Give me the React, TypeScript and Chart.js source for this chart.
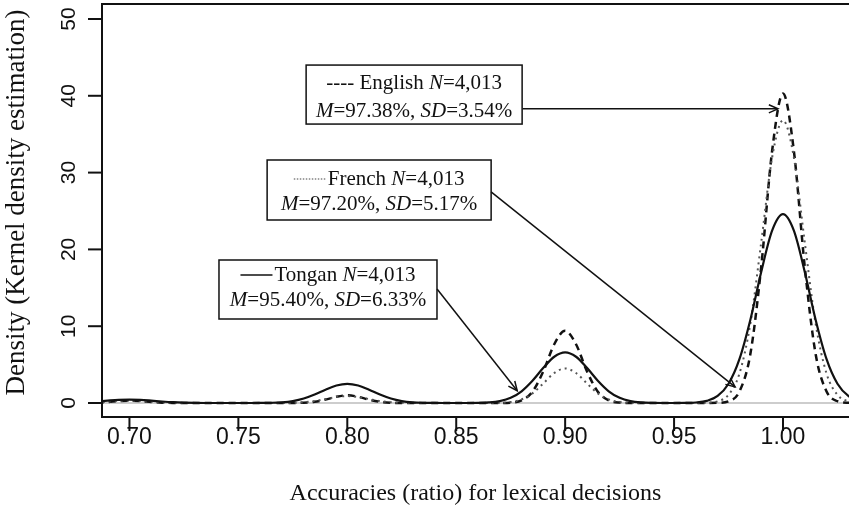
import { useEffect, useRef } from "react";
import { Chart, registerables } from "chart.js";
Chart.register(...registerables);

const xGrid = [
  0.685, 0.69, 0.695, 0.7, 0.705, 0.71, 0.715, 0.72, 0.725, 0.73,
  0.735, 0.74, 0.745, 0.75, 0.755, 0.76, 0.765, 0.77, 0.775, 0.78,
  0.785, 0.79, 0.795, 0.8, 0.805, 0.81, 0.815, 0.82, 0.825, 0.83,
  0.835, 0.84, 0.845, 0.85, 0.855, 0.86, 0.865, 0.87, 0.875, 0.88,
  0.885, 0.89, 0.895, 0.9, 0.905, 0.91, 0.915, 0.92, 0.925, 0.93,
  0.935, 0.94, 0.945, 0.95, 0.955, 0.96, 0.965, 0.97, 0.975, 0.98,
  0.985, 0.99, 0.995, 1.0, 1.005, 1.01, 1.015, 1.02, 1.025, 1.03,
  1.035,
];

const tongan = [
  0.198, 0.312, 0.411, 0.45, 0.411, 0.312, 0.198, 0.104, 0.046, 0.017,
  0.005, 0.001, 0, 0, 0.002, 0.007, 0.029, 0.093, 0.255, 0.58,
  1.099, 1.735, 2.282, 2.5, 2.282, 1.735, 1.099, 0.58, 0.255, 0.093,
  0.029, 0.007, 0.002, 0.001, 0.004, 0.019, 0.075, 0.247, 0.673, 1.531,
  2.901, 4.58, 6.024, 6.6, 6.024, 4.58, 2.901, 1.531, 0.673, 0.247,
  0.075, 0.019, 0.004, 0.003, 0.015, 0.071, 0.28, 0.919, 2.509, 5.707,
  10.814, 17.072, 22.452, 24.6, 22.452, 17.072, 10.814, 5.707, 2.509, 0.919,
  0.28,
];

const english = [
  0.047, 0.132, 0.244, 0.3, 0.244, 0.132, 0.047, 0.011, 0.002, 0,
  0, 0, 0, 0, 0, 0, 0, 0.001, 0.006, 0.037,
  0.157, 0.44, 0.814, 1.0, 0.814, 0.44, 0.157, 0.037, 0.006, 0.001,
  0, 0, 0, 0, 0, 0, 0, 0.006, 0.055, 0.351,
  1.479, 4.132, 7.653, 9.4, 7.653, 4.132, 1.479, 0.351, 0.055, 0.006,
  0, 0, 0, 0, 0, 0, 0.002, 0.025, 0.237, 1.504,
  6.339, 17.716, 32.81, 40.3, 32.81, 17.716, 6.339, 1.504, 0.237, 0.025,
  0.002,
];

const french = [
  0.084, 0.17, 0.26, 0.3, 0.26, 0.17, 0.084, 0.031, 0.009, 0.002,
  0, 0, 0, 0, 0, 0, 0.001, 0.006, 0.026, 0.094,
  0.252, 0.511, 0.781, 0.9, 0.781, 0.511, 0.252, 0.094, 0.026, 0.006,
  0.001, 0, 0, 0, 0, 0.001, 0.004, 0.028, 0.131, 0.468,
  1.26, 2.556, 3.906, 4.5, 3.906, 2.556, 1.26, 0.468, 0.131, 0.028,
  0.004, 0.001, 0, 0, 0, 0.004, 0.036, 0.226, 1.072, 3.827,
  10.304, 20.899, 31.946, 36.8, 31.946, 20.899, 10.304, 3.827, 1.072, 0.226,
  0.036,
];

const xTicks = [0.7, 0.75, 0.8, 0.85, 0.9, 0.95, 1.0];
const xTickLabels = ["0.70", "0.75", "0.80", "0.85", "0.90", "0.95", "1.00"];
const yTicks = [0, 10, 20, 30, 40, 50];
const yTickLabels = ["0", "10", "20", "30", "40", "50"];

const xTitle = "Accuracies (ratio) for lexical decisions";
const yTitle = "Density (Kernel density estimation)";

type Seg = { t?: string; it?: boolean; line?: "dash" | "dot" | "solid" };
type Note = {
  left: number; top: number; w: number; h: number;
  l1: Seg[]; l2: Seg[]; o1: number; o2: number;
  from: [number, number]; to: [number, number];
};

const notes: Note[] = [
  {
    left: 0.7811, top: 44.0, w: 216, h: 59,
    l1: [{ t: "---- English " }, { t: "N", it: true }, { t: "=4,013" }],
    l2: [{ t: "M", it: true }, { t: "=97.38%, " }, { t: "SD", it: true }, { t: "=3.54%" }],
    o1: 17, o2: 45,
    from: [0.8805, 38.3], to: [0.9977, 38.3],
  },
  {
    left: 0.7632, top: 31.64, w: 224, h: 60,
    l1: [{ line: "dot" }, { t: "French " }, { t: "N", it: true }, { t: "=4,013" }],
    l2: [{ t: "M", it: true }, { t: "=97.20%, " }, { t: "SD", it: true }, { t: "=5.17%" }],
    o1: 18, o2: 43,
    from: [0.866, 27.5], to: [0.978, 2.1],
  },
  {
    left: 0.7411, top: 18.62, w: 218, h: 59,
    l1: [{ line: "solid" }, { t: "Tongan " }, { t: "N", it: true }, { t: "=4,013" }],
    l2: [{ t: "M", it: true }, { t: "=95.40%, " }, { t: "SD", it: true }, { t: "=6.33%" }],
    o1: 14, o2: 39,
    from: [0.8412, 14.84], to: [0.878, 1.6],
  },
];

const SERIF = '"Liberation Serif", "Times New Roman", serif';
const SANS = '"Liberation Sans", Arial, sans-serif';
const NOTE_SIZE = 21;
const PREFIX_W = 32;

function fontFor(it?: boolean) {
  return `${it ? "italic " : ""}${NOTE_SIZE}px ${SERIF}`;
}

function drawSegs(ctx: CanvasRenderingContext2D, segs: Seg[], cx: number, cy: number) {
  let total = 0;
  const widths = segs.map((s) => {
    if (s.line) return PREFIX_W + 2;
    ctx.font = fontFor(s.it);
    return ctx.measureText(s.t || "").width;
  });
  widths.forEach((w) => (total += w));
  let x = cx - total / 2;
  ctx.textBaseline = "middle";
  ctx.textAlign = "left";
  segs.forEach((s, i) => {
    if (s.line) {
      ctx.save();
      ctx.beginPath();
      ctx.lineWidth = s.line === "dot" ? 1.2 : 1.6;
      ctx.strokeStyle = s.line === "dot" ? "#444" : "#111";
      if (s.line === "dot") ctx.setLineDash([1.5, 1.5]);
      ctx.moveTo(x, cy + 1);
      ctx.lineTo(x + PREFIX_W, cy + 1);
      ctx.stroke();
      ctx.restore();
    } else {
      ctx.font = fontFor(s.it);
      ctx.fillStyle = "#111";
      ctx.fillText(s.t || "", x, cy + 1);
    }
    x += widths[i];
  });
}

function arrow(ctx: CanvasRenderingContext2D, x1: number, y1: number, x2: number, y2: number) {
  ctx.beginPath();
  ctx.moveTo(x1, y1);
  ctx.lineTo(x2, y2);
  ctx.stroke();
  const a = Math.atan2(y2 - y1, x2 - x1);
  const L = 10, sp = 0.42;
  ctx.beginPath();
  ctx.moveTo(x2 - L * Math.cos(a - sp), y2 - L * Math.sin(a - sp));
  ctx.lineTo(x2, y2);
  ctx.lineTo(x2 - L * Math.cos(a + sp), y2 - L * Math.sin(a + sp));
  ctx.stroke();
}

const decor = {
  id: "decor",
  beforeDatasetsDraw(chart: any) {
    const { ctx, chartArea: ca, scales } = chart;
    const y0 = scales.y.getPixelForValue(0);
    ctx.save();
    ctx.strokeStyle = "#cdcdcd";
    ctx.lineWidth = 2;
    ctx.beginPath();
    ctx.moveTo(ca.left, y0);
    ctx.lineTo(ca.right, y0);
    ctx.stroke();
    ctx.restore();
  },
  afterDraw(chart: any) {
    const { ctx, chartArea: ca, scales } = chart;
    const xs = scales.x, ys = scales.y;
    ctx.save();
    ctx.strokeStyle = "#111";
    ctx.lineWidth = 2;
    // frame
    ctx.beginPath();
    ctx.moveTo(ca.right + 5, ca.top);
    ctx.lineTo(ca.left, ca.top);
    ctx.lineTo(ca.left, ca.bottom);
    ctx.lineTo(ca.right + 5, ca.bottom);
    ctx.stroke();
    // y ticks
    ctx.fillStyle = "#111";
    ctx.font = `21px ${SANS}`;
    yTicks.forEach((v, i) => {
      const py = ys.getPixelForValue(v);
      ctx.beginPath();
      ctx.moveTo(ca.left - 14, py);
      ctx.lineTo(ca.left, py);
      ctx.stroke();
      ctx.save();
      ctx.translate(69, py);
      ctx.rotate(-Math.PI / 2);
      ctx.textAlign = "center";
      ctx.textBaseline = "middle";
      ctx.fillText(yTickLabels[i], 0, 0);
      ctx.restore();
    });
    // x ticks
    ctx.font = `23px ${SANS}`;
    xTicks.forEach((v, i) => {
      const px = xs.getPixelForValue(v);
      ctx.beginPath();
      ctx.moveTo(px, ca.bottom);
      ctx.lineTo(px, ca.bottom + 14);
      ctx.stroke();
      ctx.textAlign = "center";
      ctx.textBaseline = "middle";
      ctx.fillText(xTickLabels[i], px, 438);
    });
    // titles
    ctx.font = `24px ${SERIF}`;
    ctx.textAlign = "center";
    ctx.textBaseline = "middle";
    ctx.fillText(xTitle, (ca.left + ca.right) / 2, 494);
    ctx.save();
    ctx.font = `27px ${SERIF}`;
    ctx.translate(17, (ca.top + ca.bottom) / 2 - 8);
    ctx.rotate(-Math.PI / 2);
    ctx.fillText(yTitle, 0, 0);
    ctx.restore();
    // annotations
    notes.forEach((n) => {
      const L = xs.getPixelForValue(n.left);
      const T = ys.getPixelForValue(n.top);
      ctx.lineWidth = 1.5;
      ctx.strokeStyle = "#111";
      ctx.fillStyle = "#fff";
      ctx.fillRect(L, T, n.w, n.h);
      ctx.strokeRect(L, T, n.w, n.h);
      drawSegs(ctx, n.l1, L + n.w / 2, T + n.o1);
      drawSegs(ctx, n.l2, L + n.w / 2, T + n.o2);
      ctx.lineWidth = 1.5;
      arrow(
        ctx,
        xs.getPixelForValue(n.from[0]), ys.getPixelForValue(n.from[1]),
        xs.getPixelForValue(n.to[0]), ys.getPixelForValue(n.to[1])
      );
    });
    ctx.restore();
  },
};

export default function App() {
  const ref = useRef<HTMLCanvasElement>(null);
  useEffect(() => {
    document.body.style.margin = "0";
    const mk = (ys: number[]) => xGrid.map((x, i) => ({ x, y: ys[i] }));
    const chart = new Chart(ref.current!, {
      type: "line",
      data: {
        datasets: [
          {
            label: "Tongan", data: mk(tongan), borderColor: "#111", borderWidth: 2.2,
            pointRadius: 0, cubicInterpolationMode: "monotone", fill: false,
          },
          {
            label: "French", data: mk(french), borderColor: "#555", borderWidth: 2,
            borderDash: [2, 4], pointRadius: 0, cubicInterpolationMode: "monotone", fill: false,
          },
          {
            label: "English", data: mk(english), borderColor: "#111", borderWidth: 2.5,
            borderDash: [7, 5], pointRadius: 0, cubicInterpolationMode: "monotone", fill: false,
          },
        ],
      },
      options: {
        animation: false,
        responsive: false,
        layout: { padding: { top: 4, left: 0, right: 0, bottom: 0 } },
        plugins: { legend: { display: false }, tooltip: { enabled: false } },
        scales: {
          x: {
            type: "linear", min: 0.6874, max: 1.0303,
            grid: { display: false }, border: { display: false },
            ticks: { display: false },
            afterFit: (s: any) => { s.height = 98; },
          },
          y: {
            type: "linear", min: -1.82, max: 51.95,
            grid: { display: false }, border: { display: false },
            ticks: { display: false },
            afterFit: (s: any) => { s.width = 102; },
          },
        },
      },
      plugins: [decor],
    });
    return () => chart.destroy();
  }, []);
  return <canvas ref={ref} width={849} height={515} style={{ display: "block" }} />;
}
